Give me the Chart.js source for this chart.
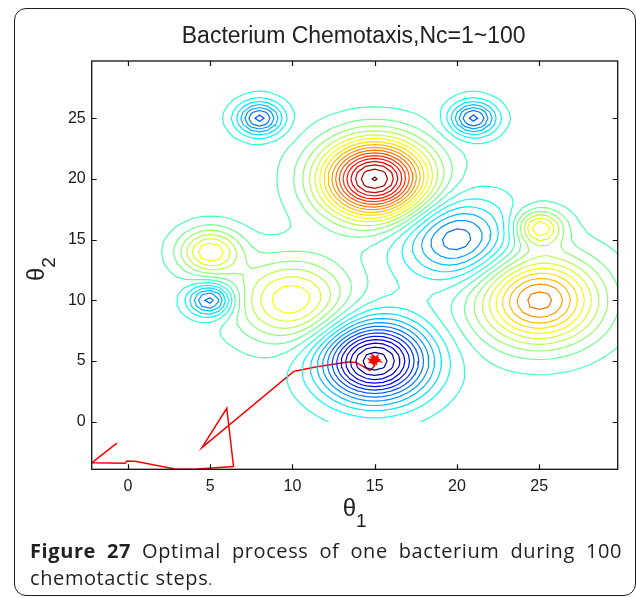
<!DOCTYPE html>
<html>
<head>
<meta charset="utf-8">
<script src="https://cdn.jsdelivr.net/npm/chart.js@4.4.1/dist/chart.umd.min.js"></script>
<style>
  body { margin:0; background:#fff; }
  #wrap { position:relative; width:636px; height:598px; overflow:hidden; background:#fff; }
  #chart { position:absolute; left:0; top:0; }
  #frame { position:absolute; left:14px; top:8px; width:622px; height:588px; box-sizing:border-box;
           border:1.5px solid #1e1e1e; border-radius:12px; pointer-events:none; }
  #caption { position:absolute; left:30px; top:537px; width:592px; font-family:"Open Sans", "Noto Sans", sans-serif;
             font-size:20px; letter-spacing:0.6px; line-height:27px; color:#231f20; text-align:justify; text-align-last:left; }
  #caption b { font-weight:700; }
</style>
</head>
<body>
<div id="wrap">
  <canvas id="chart" width="636" height="530"></canvas>
  <div id="frame"></div>
  <div id="caption"><b>Figure 27</b> Optimal process of one bacterium during 100 chemotactic steps<span style="font-size:14px">.</span></div>
</div>
<script>
// nutrient bumps (centre, height, spread)
let peakX      = [15,   20,   25,   5,    5,    15,  8,    21,   25,  10];
let peakY      = [20,   15,   10,   14,   10,   5,   25,   25,   16,  10];
let peakHeight = [5,    -1.9, 3,    1.9,  -2,   -4,  -2.1, -2.1, 1.9, 1.9];
let peakSpread = [0.1,  0.1,  0.08, 0.3,  0.6,  0.1, 0.55, 0.55, 0.5, 0.09];

// contour levels
let levels = [-3.75,-3.45,-3.15,-2.85,-2.55,-2.25,-1.95,-1.65,-1.35,-1.05,-0.75,-0.45,-0.15,
              0.15,0.45,0.75,1.05,1.35,1.65,1.95,2.25,2.55,2.85,3.15,3.45,3.75,4.05,4.35,4.65,4.95];

// bacterium path (theta1, theta2)
let pathX = [-0.67,-2.2,-0.16,-0.06,0.44,2.87,3.5,4.19,6.42,6.01,4.5,10.06,10.27,11.48,13.5,13.9,14.72,
             15.0,14.65,15.35,14.85,15.1,14.7,15.25,14.95,14.8,15.3,15.05,14.9,15.2,15.0,14.75,15.15,14.9,15.1];
let pathY = [-1.78,-3.4,-3.43,-3.24,-3.27,-3.9,-3.93,-3.9,-3.7,1.1,-2.14,4.12,4.2,4.53,4.94,4.86,4.2,
             4.6,5.15,4.95,5.5,4.75,4.9,5.3,5.05,5.3,5.1,4.8,4.95,5.0,5.2,5.05,5.4,4.85,5.15];

let xTicks = [0,5,10,15,20,25];
let yTicks = [0,5,10,15,20,25];

let gridMin = 0, gridMax = 30, gridStep = 0.5;

function nutrient(x, y){
    let v = 0;
    for(let k=0;k<peakX.length;k++){
        v += peakHeight[k]*Math.exp(-peakSpread[k]*((x-peakX[k])**2+(y-peakY[k])**2));
    }
    return v;
}

// matlab jet
function jet(t){
    let c = v=>Math.round(255*Math.max(0,Math.min(1,v)));
    return `rgb(${c(1.5-Math.abs(4*t-3))},${c(1.5-Math.abs(4*t-2))},${c(1.5-Math.abs(4*t-1))})`;
}

// grid
let gx = [], gy = [];
for(let v=gridMin; v<=gridMax+1e-9; v+=gridStep){ gx.push(+v.toFixed(4)); gy.push(+v.toFixed(4)); }
let Z = gy.map(y=>gx.map(x=>nutrient(x,y)));

// marching squares -> chained polylines, gaps as nulls
function contour(level){
    let pts = {}, adj = {};
    let edgePt = (key,x0,y0,v0,x1,y1,v1)=>{
        if(!pts[key]){ let t=(level-v0)/(v1-v0); pts[key]={x:x0+t*(x1-x0), y:y0+t*(y1-y0)}; }
        return key;
    };
    let link = (p,q)=>{ (adj[p]=adj[p]||[]).push(q); (adj[q]=adj[q]||[]).push(p); };
    for(let j=0;j<gy.length-1;j++){
        for(let i=0;i<gx.length-1;i++){
            let a=Z[j][i], b=Z[j][i+1], c=Z[j+1][i+1], d=Z[j+1][i];
            let x0=gx[i], x1=gx[i+1], y0=gy[j], y1=gy[j+1];
            let e = [];
            if((a>level)!==(b>level)) e[0]=edgePt('h'+i+'_'+j,x0,y0,a,x1,y0,b);
            if((b>level)!==(c>level)) e[1]=edgePt('v'+(i+1)+'_'+j,x1,y0,b,x1,y1,c);
            if((d>level)!==(c>level)) e[2]=edgePt('h'+i+'_'+(j+1),x0,y1,d,x1,y1,c);
            if((a>level)!==(d>level)) e[3]=edgePt('v'+i+'_'+j,x0,y0,a,x0,y1,d);
            let found = e.filter(k=>k);
            if(found.length===2) link(found[0],found[1]);
            else if(found.length===4){
                let m=(a+b+c+d)/4;
                if((m>level)===(a>level)){ link(e[0],e[1]); link(e[2],e[3]); }
                else { link(e[3],e[0]); link(e[1],e[2]); }
            }
        }
    }
    let used = new Set(), out = [];
    let walk = start=>{
        let cur = start, line = [pts[start]];
        while(true){
            let next = null;
            for(let n of adj[cur]){
                let id = cur<n ? cur+'|'+n : n+'|'+cur;
                if(!used.has(id)){ used.add(id); next=n; break; }
            }
            if(next===null) break;
            line.push(pts[next]); cur = next;
        }
        if(line.length>1){ out.push(...line); out.push({x:null,y:null}); }
    };
    let keys = Object.keys(adj);
    keys.filter(k=>adj[k].length===1).forEach(walk);
    keys.forEach(walk);
    return out;
}

let lo = levels[0], hi = levels[levels.length-1];
let datasets = levels.map(L=>({
    data: contour(L),
    borderColor: jet((L-lo)/(hi-lo)),
    borderWidth: 1.2,
    showLine: true, pointRadius: 0, spanGaps: false, tension: 0
}));
datasets.push({
    data: pathX.map((x,i)=>({x:x, y:pathY[i]})),
    borderColor: '#ff0000', borderWidth: 1.5,
    showLine: true, pointRadius: 0, tension: 0
});

const FONT = "'Liberation Sans', Arial, sans-serif";
const TITLE = 'Bacterium Chemotaxis,Nc=1~100';

// title, box, inward ticks, theta labels
const matlabAxes = {
    id: 'matlabAxes',
    afterDraw(chart){
        let {ctx, chartArea:a, scales:{x, y}} = chart;
        ctx.save();
        ctx.fillStyle = '#222';
        ctx.font = '23px '+FONT;
        ctx.textAlign = 'center'; ctx.textBaseline = 'middle';
        ctx.fillText(TITLE, (a.left+a.right)/2 - 1, 37);
        ctx.textAlign = 'left';

        ctx.strokeStyle = '#111'; ctx.lineWidth = 1.3;
        ctx.strokeRect(a.left, a.top, a.right-a.left, a.bottom-a.top);
        ctx.lineWidth = 1.2;
        ctx.beginPath();
        xTicks.forEach(v=>{
            let px = Math.round(x.getPixelForValue(v))+0.5;
            ctx.moveTo(px,a.bottom); ctx.lineTo(px,a.bottom-5);
            ctx.moveTo(px,a.top); ctx.lineTo(px,a.top+5);
        });
        yTicks.forEach(v=>{
            let py = Math.round(y.getPixelForValue(v))+0.5;
            ctx.moveTo(a.left,py); ctx.lineTo(a.left+5,py);
            ctx.moveTo(a.right,py); ctx.lineTo(a.right-5,py);
        });
        ctx.stroke();

        ctx.textBaseline = 'alphabetic';
        // theta_1
        ctx.font = '24px '+FONT;
        let w1 = ctx.measureText('θ').width;
        ctx.font = '19px '+FONT;
        let w2 = ctx.measureText('1').width;
        let cx = (a.left+a.right)/2;
        let sx = cx-(w1+w2)/2;
        ctx.font = '24px '+FONT; ctx.fillText('θ', sx, 516);
        ctx.font = '19px '+FONT; ctx.fillText('1', sx+w1, 527);
        // theta_2 rotated
        ctx.translate(44, (a.top+a.bottom)/2 + 4);
        ctx.rotate(-Math.PI/2);
        ctx.font = '24px '+FONT;
        w1 = ctx.measureText('θ').width;
        ctx.font = '19px '+FONT;
        w2 = ctx.measureText('2').width;
        sx = -(w1+w2)/2;
        ctx.font = '24px '+FONT; ctx.fillText('θ', sx, 0);
        ctx.font = '19px '+FONT; ctx.fillText('2', sx+w1, 11);
        ctx.restore();
    }
};

new Chart(document.getElementById('chart').getContext('2d'), {
    type: 'scatter',
    data: { datasets: datasets },
    plugins: [matlabAxes],
    options: {
        responsive: false, animation: false, devicePixelRatio: 1,
        layout: { padding: { left: 45, right: 18.3, top: 61, bottom: 0 } },
        plugins: { legend: { display: false }, tooltip: { enabled: false }, title: { display: false } },
        scales: {
            x: {
                type: 'linear', min: -2.2, max: 29.77,
                grid: { display: false, drawTicks: false }, border: { display: false },
                afterBuildTicks: s=>{ s.ticks = xTicks.map(v=>({value:v})); },
                afterFit: s=>{ s.height = 60.7; },
                ticks: { color: '#1a1a1a', padding: 8, font: { family: FONT, size: 16 } }
            },
            y: {
                type: 'linear', min: -3.93, max: 29.72,
                grid: { display: false, drawTicks: false }, border: { display: false },
                afterBuildTicks: s=>{ s.ticks = yTicks.map(v=>({value:v})); },
                afterFit: s=>{ s.width = 46.7; },
                ticks: { color: '#1a1a1a', padding: 6, font: { family: FONT, size: 16 } }
            }
        }
    }
});
</script>
</body>
</html>
